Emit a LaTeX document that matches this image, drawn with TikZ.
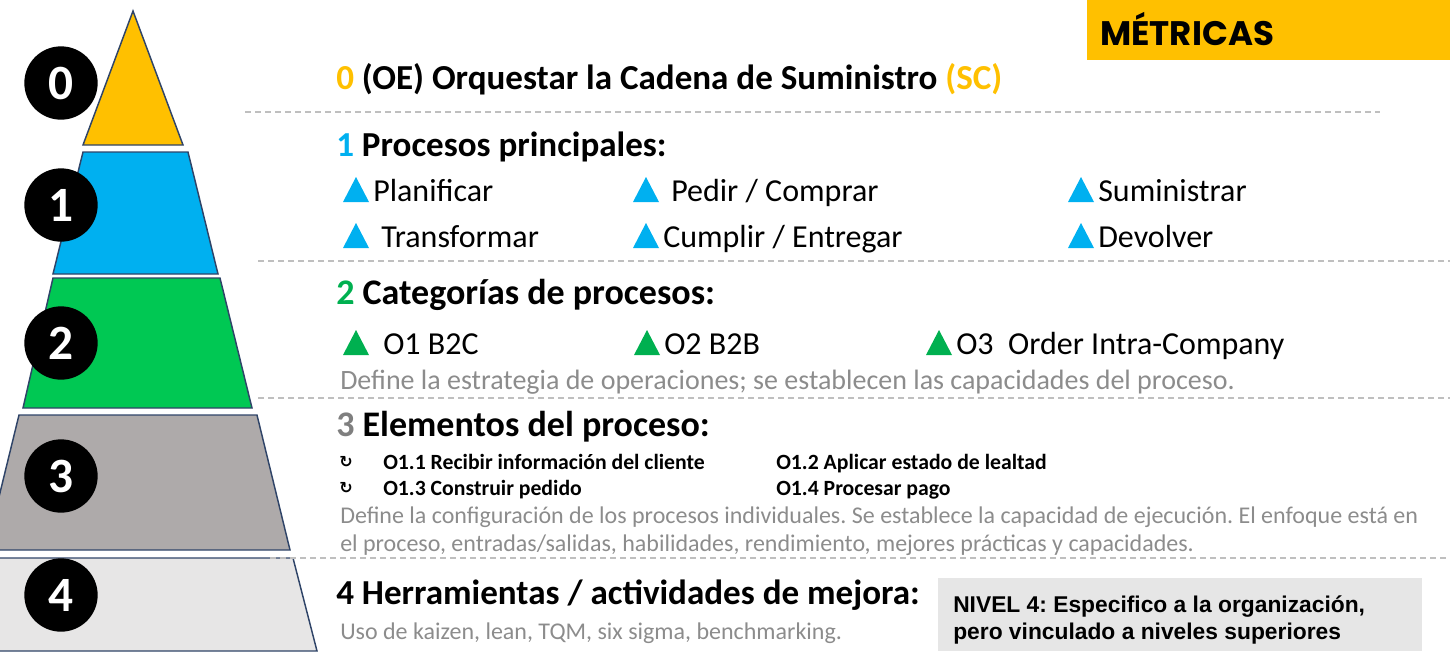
\documentclass[tikz,border=0pt]{standalone}
\usepackage{fontspec}
\setmainfont{Carlito}
\newfontfamily\arialf{Liberation Sans}
\newfontfamily\popf{Poppins}
\newfontfamily\symf{DejaVu Sans}
\definecolor{yellowc}{HTML}{FFC000}
\definecolor{bluec}{HTML}{00B0F0}
\definecolor{greenp}{HTML}{00C853}
\definecolor{greent}{HTML}{00B050}
\definecolor{greyp}{HTML}{AEAAAA}
\definecolor{lightp}{HTML}{E7E6E6}
\definecolor{pyrline}{HTML}{2F4468}
\definecolor{dashc}{HTML}{BFBFBF}
\definecolor{desc}{HTML}{8C8C8C}
\definecolor{numgrey}{HTML}{7F7F7F}
\definecolor{boxgrey}{HTML}{E6E6E6}
\frenchspacing
\begin{document}
\begin{tikzpicture}[x=0.75pt,y=-0.75pt,
  lvl/.style={draw=pyrline,line width=1.1pt,line join=miter},
  numc/.style={circle,fill=black,minimum size=55pt,inner sep=0pt,text=white,font=\bfseries\fontsize{37}{37}\selectfont},
  txt/.style={anchor=west,inner sep=0pt},
  btxt/.style={anchor=base west,inner sep=0pt},
  head/.style={txt,font=\bfseries\fontsize{26.3}{30}\selectfont},
  item/.style={btxt,font=\fontsize{24}{28}\selectfont},
  descr/.style={btxt,text=desc,font=\fontsize{18}{22}\selectfont},
  small/.style={btxt,font=\bfseries\fontsize{16.3}{20}\selectfont},
  sep/.style={dashc,line width=1pt,dash pattern=on 4.5pt off 3pt},
  nivel/.style={btxt,font=\arialf\bfseries\fontsize{17.1}{20}\selectfont}]
\useasboundingbox (0,0) rectangle (1450,665);
\clip (0,0) rectangle (1450,665);
\newcommand\mktri[3]{\fill[#3] (#1,#2+12) -- (#1+13,#2-13) -- (#1+26,#2+12) -- cycle;}
% pyramid
\draw[lvl,fill=yellowc] (133,11) -- (183,145) -- (83,145) -- cycle;
\draw[lvl,fill=bluec] (83,152) -- (188,152) -- (218,274) -- (53,274) -- cycle;
\draw[lvl,fill=greenp] (53,278) -- (220,278) -- (252,408) -- (23,408) -- cycle;
\draw[lvl,fill=greyp] (19,415) -- (257,415) -- (290,550) -- (-14,550) -- cycle;
\draw[lvl,fill=lightp] (-16,558) -- (293,558) -- (317,651) -- (-40,651) -- cycle;
% number circles
\node[numc] (c0) at (61,83) {0};
\node[numc] (c1) at (61,205) {1};
\node[numc] (c2) at (61,343) {2};
\node[numc] (c3) at (61,476) {3};
\node[numc] (c4) at (61,595) {4};
% separators
\draw[sep] (245,112) -- (1380,112);
\draw[sep] (258,261) -- (1450,261);
\draw[sep] (258,398) -- (1450,398);
\draw[sep] (270,558) -- (1450,558);
% metricas
\fill[yellowc] (1087,0) rectangle (1450,60);
\node[txt,font=\popf\bfseries\fontsize{25.5}{28}\selectfont] (met) at (1100,29) {MÉTRICAS};
% level 0
\node[head] (h0) at (336,79) {\textcolor{yellowc}{0} (OE) Orquestar la Cadena de Suministro \textcolor{yellowc}{(SC)}};
% level 1
\node[head] (h1) at (336,147) {\textcolor{bluec}{1} Procesos principales:};
\mktri{343}{190}{bluec}
\node[item] (p1) at (373,201) {Planificar};
\mktri{633}{190}{bluec}
\node[item] (p2) at (671,201) {Pedir / Comprar};
\mktri{1068}{190}{bluec}
\node[item] (p3) at (1098,201) {Suministrar};
\mktri{343}{236}{bluec}
\node[item] (p4) at (381,247) {Transformar};
\mktri{633}{236}{bluec}
\node[item] (p5) at (663,247) {Cumplir / Entregar};
\mktri{1068}{236}{bluec}
\node[item] (p6) at (1098,247) {Devolver};
% level 2
\node[head,font=\bfseries\fontsize{27}{30}\selectfont] (h2) at (336,295) {\textcolor{greent}{2} Categorías de procesos:};
\mktri{343}{343}{greent}
\node[item] (o1) at (383,354) {O1 B2C};
\mktri{634}{343}{greent}
\node[item] (o2) at (664,354) {O2 B2B};
\mktri{926}{343}{greent}
\node[item] (o3) at (956,354) {O3\ \ Order Intra-Company};
\node[descr,font=\fontsize{21}{24}\selectfont] (d2) at (340,389) {Define la estrategia de operaciones; se establecen las capacidades del proceso.};
% level 3
\node[head,font=\bfseries\fontsize{27}{30}\selectfont] (h3) at (336,427) {\textcolor{numgrey}{3} Elementos del proceso:};
\node[txt,font=\symf\bfseries\fontsize{12}{12}\selectfont] (b1) at (339,462) {↻};
\node[txt,font=\symf\bfseries\fontsize{12}{12}\selectfont] (b2) at (339,488) {↻};
\node[small] (e1) at (383,469) {O1.1 Recibir información del cliente};
\node[small] (e2) at (776,469) {O1.2 Aplicar estado de lealtad};
\node[small] (e3) at (383,495) {O1.3 Construir pedido};
\node[small] (e4) at (776,495) {O1.4 Procesar pago};
\node[descr] (d3a) at (340,523) {Define la configuración de los procesos individuales. Se establece la capacidad de ejecución. El enfoque está en};
\node[descr] (d3b) at (340,551) {el proceso, entradas/salidas, habilidades, rendimiento, mejores prácticas y capacidades.};
% level 4
\node[head] (h4) at (336,595) {4 Herramientas / actividades de mejora:};
\node[descr] (d4) at (340,639) {Uso de kaizen, lean, TQM, six sigma, benchmarking.};
\node[fill=boxgrey,anchor=north west,minimum width=363pt,minimum height=54.75pt,inner sep=0pt] (nbox) at (938,578) {};
\node[nivel] (n1) at (953,612) {NIVEL 4: Especifico a la organización,};
\node[nivel] (n2) at (953,639) {pero vinculado a niveles superiores};
\end{tikzpicture}
\end{document}
